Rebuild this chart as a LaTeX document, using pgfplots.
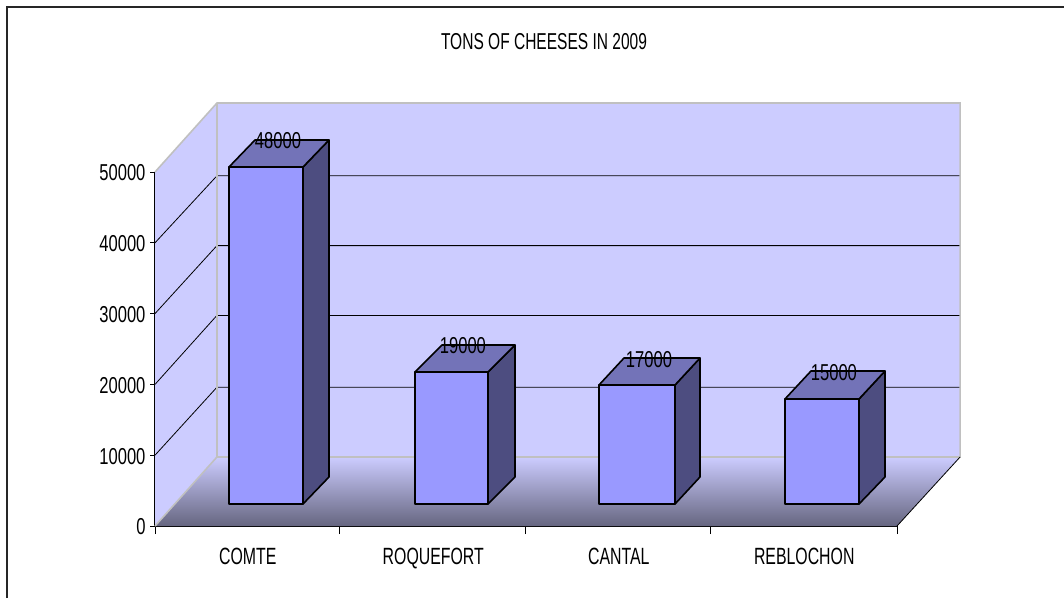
\documentclass[border=0pt]{standalone}
\usepackage{fontspec}
\setmainfont[FakeStretch=0.72]{Liberation Sans}
\newfontfamily\narrowfont[FakeStretch=0.675]{Liberation Sans}
\usepackage{pgfplots}
\pgfplotsset{compat=1.18}

\definecolor{wall}{HTML}{CCCCFF}
\definecolor{floordark}{HTML}{666680}
\definecolor{wallgray}{HTML}{C0C0C0}
\definecolor{barfront}{HTML}{9999FF}
\definecolor{barside}{HTML}{4D4D80}
\definecolor{bartop}{HTML}{7373B8}

% bar labels: x, y of the label, value
\pgfplotstableread{
x y value
0.663 54379 48000
1.660 25423 19000
2.663 23446 17000
3.660 21610 15000
}\barlabels

\begin{document}
\begin{tikzpicture}
% page is 1064x598, axis front box starts at pixel (155,526)
\path[use as bounding box] (-155pt,-72pt) rectangle (909pt,526pt);
\draw[color=black!85,line width=1.6pt] (-148pt,-72pt) -- (-148pt,519pt) -- (909pt,519pt);
\begin{axis}[
    at={(0pt,0pt)},
    anchor=south west,
    scale only axis,
    width=742pt,
    height=354pt,
    xmin=0, xmax=4,
    ymin=0, ymax=50000,
    clip=false,
    axis x line=bottom,
    axis y line=left,
    axis line style={-,line width=1.1pt,black},
    tick align=outside,
    ytick={0,10000,20000,30000,40000,50000},
    scaled y ticks=false,
    xtick={0.5,1.5,2.5,3.5},
    xticklabels={COMTE,ROQUEFORT,CANTAL,REBLOCHON},
    minor xtick={0,0.995,1.995,2.995,4},
    major x tick style={draw=none},
    minor x tick style={black,line width=0.8pt},
    minor tick length=8pt,
    major tick length=5pt,
    y tick style={black,line width=0.8pt},
    /pgf/number format/assume math mode=true,
    /pgf/number format/1000 sep={},
    tick label style={font=\fontsize{23}{25}\selectfont},
    yticklabel style={xshift=-1pt,yshift=-1pt},
    xticklabel style={yshift=-14pt,font=\narrowfont\fontsize{23.5}{25}\selectfont},
]
% walls
\addplot[draw=none,fill=wall] coordinates {(0.334,9746) (4.34,9746) (4.34,59746) (0.334,59746)} -- cycle;
\addplot[draw=none,fill=wall] coordinates {(0,0) (0.334,9746) (0.334,59746) (0,50000)} -- cycle;
% floor
\addplot[draw=none,top color=wall,bottom color=floordark] coordinates {(0,0) (4,0) (4.34,9746) (0.334,9746)} -- cycle;
% gridlines on back and side wall
\addplot[black,line width=0.8pt] coordinates {(0,10000) (0.334,19605) (4.34,19605)};
\addplot[black,line width=0.8pt] coordinates {(0,20000) (0.334,29746) (4.34,29746)};
\addplot[black,line width=0.8pt] coordinates {(0,30000) (0.334,39605) (4.34,39605)};
\addplot[black,line width=0.8pt] coordinates {(0,40000) (0.334,49463) (4.34,49463)};
% wall edges
\addplot[wallgray,line width=1.6pt] coordinates {(0,50000) (0.334,59746) (4.34,59746) (4.34,9746) (0.334,9746) (0,0)};
\addplot[wallgray,line width=1.6pt] coordinates {(0.334,59746) (0.334,9746)};
\addplot[black,line width=0.8pt] coordinates {(4,0) (4.34,9746)};
% COMTE
\addplot[draw=black,line width=1.6pt,line join=round,fill=barside] coordinates {(0.7978,3107) (0.938,6921) (0.938,54520) (0.7978,50706)} -- cycle;
\addplot[draw=black,line width=1.6pt,line join=round,fill=bartop] coordinates {(0.3989,50706) (0.7978,50706) (0.938,54520) (0.539,54520)} -- cycle;
\addplot[draw=black,line width=1.6pt,line join=round,fill=barfront] coordinates {(0.3989,3107) (0.7978,3107) (0.7978,50706) (0.3989,50706)} -- cycle;
% ROQUEFORT
\addplot[draw=black,line width=1.6pt,line join=round,fill=barside] coordinates {(1.7951,3107) (1.9407,6921) (1.9407,25565) (1.7951,21751)} -- cycle;
\addplot[draw=black,line width=1.6pt,line join=round,fill=bartop] coordinates {(1.4016,21751) (1.7951,21751) (1.9407,25565) (1.547,25565)} -- cycle;
\addplot[draw=black,line width=1.6pt,line join=round,fill=barfront] coordinates {(1.4016,3107) (1.7951,3107) (1.7951,21751) (1.4016,21751)} -- cycle;
% CANTAL
\addplot[draw=black,line width=1.6pt,line join=round,fill=barside] coordinates {(2.8032,3107) (2.938,6921) (2.938,23729) (2.8032,19915)} -- cycle;
\addplot[draw=black,line width=1.6pt,line join=round,fill=bartop] coordinates {(2.3935,19915) (2.8032,19915) (2.938,23729) (2.5283,23729)} -- cycle;
\addplot[draw=black,line width=1.6pt,line join=round,fill=barfront] coordinates {(2.3935,3107) (2.8032,3107) (2.8032,19915) (2.3935,19915)} -- cycle;
% REBLOCHON
\addplot[draw=black,line width=1.6pt,line join=round,fill=barside] coordinates {(3.7951,3107) (3.9353,6921) (3.9353,21893) (3.7951,17938)} -- cycle;
\addplot[draw=black,line width=1.6pt,line join=round,fill=bartop] coordinates {(3.3962,17938) (3.7951,17938) (3.9353,21893) (3.5364,21893)} -- cycle;
\addplot[draw=black,line width=1.6pt,line join=round,fill=barfront] coordinates {(3.3962,3107) (3.7951,3107) (3.7951,17938) (3.3962,17938)} -- cycle;
% value labels
\addplot[only marks,mark=none,
    point meta=explicit symbolic,
    nodes near coords,
    every node near coord/.append style={anchor=center,inner sep=0pt,font=\fontsize{23}{25}\selectfont},
] table[x=x,y=y,meta=value] {\barlabels};
\node[font=\narrowfont\fontsize{23}{25}\selectfont,anchor=center] at (axis cs:2.097,68480) {TONS OF CHEESES IN 2009};
\end{axis}
\end{tikzpicture}
\end{document}
